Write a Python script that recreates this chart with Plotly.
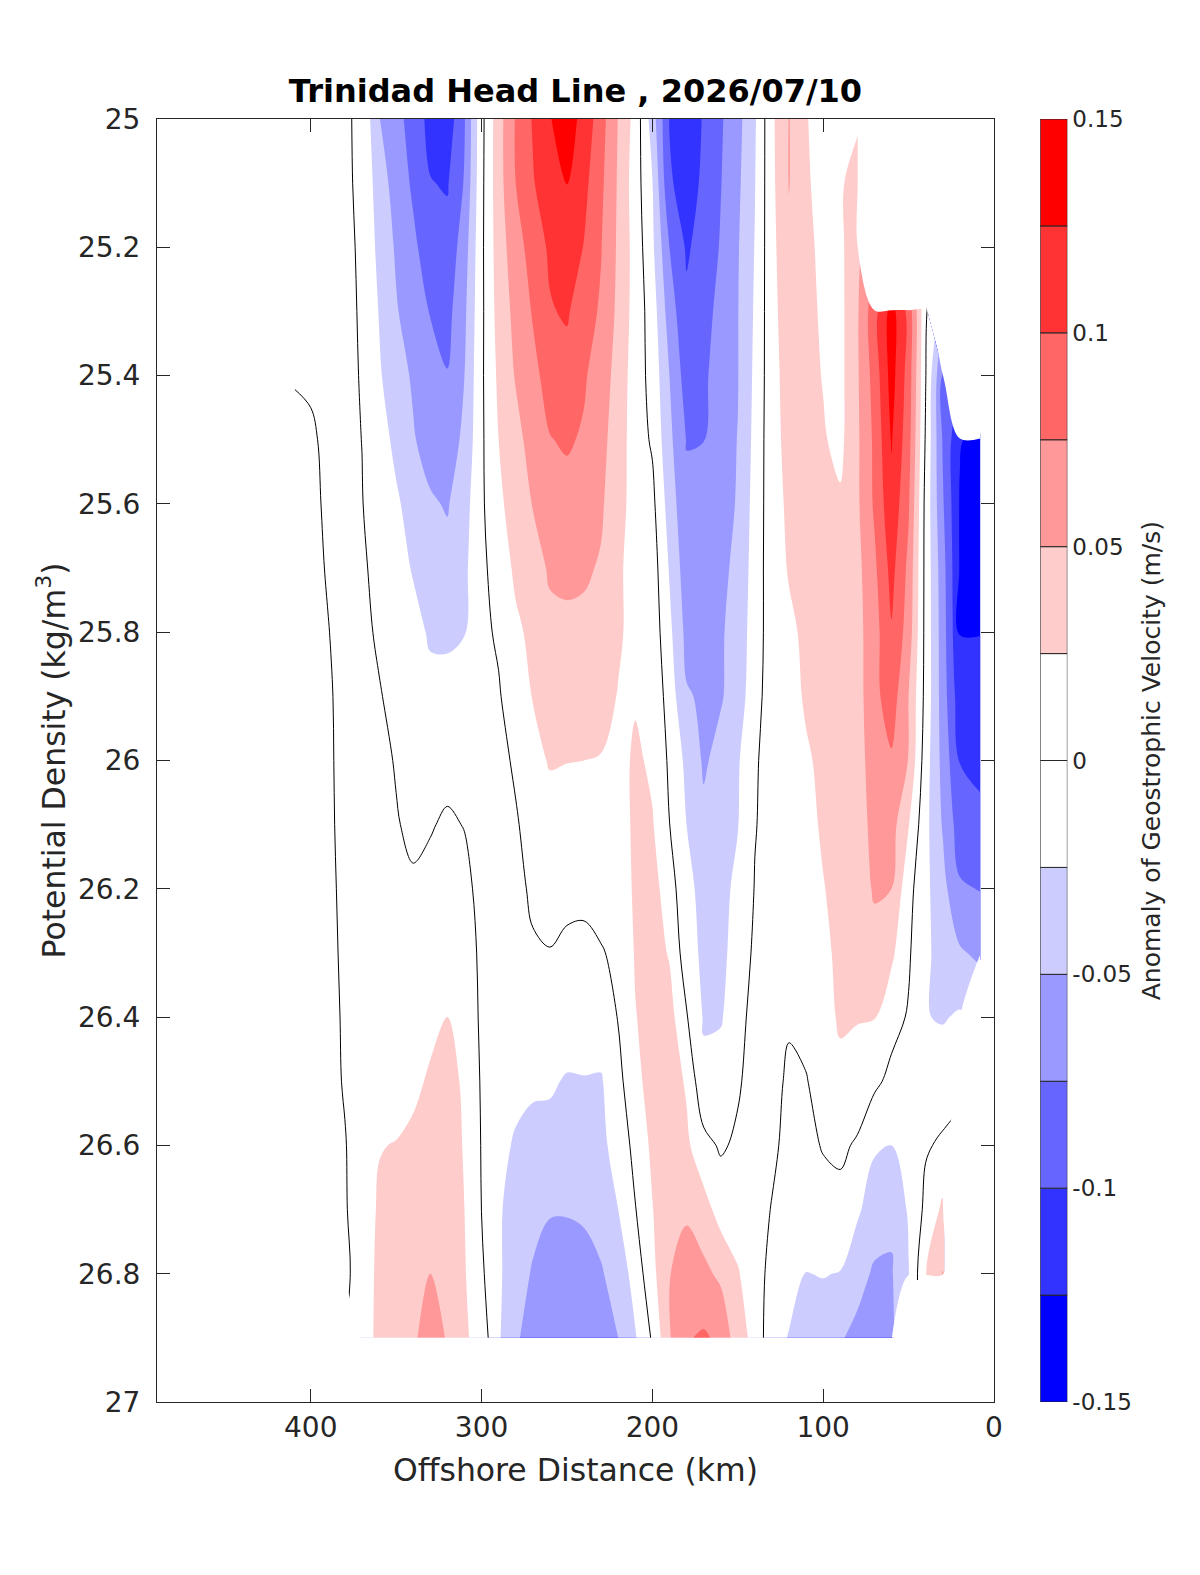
import numpy as np
import plotly.graph_objects as go

N = None

# offshore distance of each station (km)
distance_km = [8, 20, 30, 40, 50, 60, 70, 80, 90, 100, 110, 120, 130, 140, 150,
               160, 170, 180, 190, 200, 210, 220, 230, 240, 250, 260, 270, 280,
               290, 300, 310, 320, 330, 340, 350, 360, 370, 380, 390, 400, 410]

# potential density levels (kg/m3)
density = [25.0, 25.1, 25.2, 25.3, 25.4, 25.5, 25.6, 25.7, 25.8, 25.9,
           26.0, 26.1, 26.2, 26.3, 26.4, 26.5, 26.6, 26.7, 26.8, 26.9]

# geostrophic velocity anomaly, mm/s; one profile per station (25.0 -> 26.9)
velocity_mm_s = [
    [N, N, N, N, N, -135, -131, -126, -125.5, -117, -106, -94, -76, -55, N, N, N, N, N, N],        # 8
    [N, N, N, N, N, -123, -127, -127, -126, -115, -101, -88, -72, -47, -22, -6, N, N, N, N],        # 20
    [N, N, N, N, -77, -77, -72, -65, -63, -62, -58, -52, -42, -33, -27, -10, 3, 30, 51, N],         # 30
    [N, N, N, 3, 1, -3, -8, -8, -8, -8, -14, -18, -19, -21, -24, -18, -2, 5.5, 24, N],              # 40
    [N, N, N, 92, 89, 85, 78, 69, 64, 50, 49, 26, 8, 3, -2, -10, -12, -22, -26, N],                 # 50
    [N, N, N, 135, 135, 127, 118, 108, 98, 88, 72, 60, 50, 30, 8, -6, -25, -46, -52, -55],          # 60
    [N, N, N, 91, 85, 80, 78.5, 70, 65, 68, 62, 58, 53, 40, 26, 5, -22, -38, -53, -58],             # 70
    [20, 38, 45, 47, 47, 46, 46, 43, 42, 40, 40, 38, 36, 32, 27, 10, -2, -21, -42, -56],            # 80
    [20, 21, 19, 18, 18, 19, 28, 33, 34, 34, 33, 33, 32, 28, 29, 17, 3, -5, -26, -48],              # 90
    [18, 17, 20, 22, 24, 27, 30, 31, 32, 31, 30, 28, 24, 22, 14, 8, 1, -6, -24, -38],               # 100
    [26, 28, 30, 31, 32, 34, 35, 33, 30, 28, 22, 18, 14, 12, 6, -1, -4, -12, -25.5, -35],           # 110
    [51, 51, 45, 40, 36, 33, 30, 27, 20, 16, 13, 11, 9, 8, 2, -3, -6, -10, -18, -26],               # 120
    [20, 19, 18, 17, 16, 16, 14, 12, 10, 9, 7, 7, 7, 7, 7, 5.7, 4, -1, -7, -18],                    # 130
    [-28, -26, -24, -22, -20, -18, -15, -12, -10, -6.7, -2, -1, 1, 5, 12, 10, 14, 9, 10, 18],       # 140
    [-58, -55, -52, -51, -51, -49.5, -49, -47, -43, -40, -28, -26, -19, -17, -12, -3, 4, 12, 27, 35],  # 150
    [-78, -76, -73, -66, -62, -58, -55, -53, -52, -52, -43, -38, -33, -30, -27, -15, -3, 15, 45, 70],  # 160
    [-98, -96, -91, -86, -80, -75.5, -66, -61, -55, -53, -53, -45, -35, -30, -27, -20, 8, 35, 56, 78],  # 170
    [-115, -110, -103, -95, -87, -76, -70, -64, -57, -48, -31, -25, -16, -14, 2, 22, 30, 46, 62, 73],  # 180
    [-101, -97, -75, -62, -50, -44, -36, -27, -19, -11, -3.6, 0.3, 10, 23, 35, 38, 40, 45, 49, 48],  # 190
    [-37, -24, -20, -12, -8, -3, 6.4, 12.7, 15.5, 20, 20, 27, 36, 36, 34, 32, 30, 24, 18, 3],       # 200
    [16, 12, 15, 15, 12, 12, 14, 13, 18, 22, 30, 32, 30, 27, 24, 20, 7, -1, -15, -27],              # 210
    [49, 47, 46, 44, 41, 38, 35, 30, 28, 24, 14, 8, 6, 3, 1, -8, -15, -25, -40, -50],               # 220
    [85, 80, 76, 72, 62, 57, 53, 48, 40, 33, 24, 14, 6, -1, -12, -27, -31, -41, -52, -56],          # 230
    [118, 107, 99, 85, 78, 72, 62, 53, 45, 35, 25, 14, 4, -4, -15, -26, -36, -48, -55, -58],        # 240
    [135, 126, 113, 103, 90, 78, 66, 55, 45, 35, 25.5, 15, 4, -3, -12, -27, -36, -49, -57, -63],    # 250
    [124, 115, 104, 98, 85, 74, 62, 53, 44, 36, 27, 14, 5, -0.5, -9, -22, -33, -49, -56, -60],      # 260
    [102, 98, 86, 77, 68, 60, 51, 40, 31, 26, 17, 8, 3, -2, -9, -22, -31, -43, -52, -56],           # 270
    [77, 75, 64, 57, 52, 42, 36, 30, 20, 12, 3, -2, -5, -9, -14, -20, -27, -35, -40, -48],          # 280
    [40, 40, 38, 35, 30, 25, 20, 10, 3, -2, -6, -9, -11, -13, -14, -16, -20, -22, -21, -22],        # 290
    [-7, -6, -5, -5, -4, -4, -4, -5, -5, -6, -8, -8, -4.5, -4, -4, -2.5, -1.2, -0.3, 4, 14],        # 300
    [-77, -73, -62, -55, -50, -45, -35, -30, -26, -15, -7, -0.5, 4, 10, 16, 22, 23, 25, 27, 29],    # 310
    [-115, -102, -92, -83, -74, -62, -52, -42, -29, -17, -5, 2, 8, 16, 25, 32, 38, 42, 46, 49],     # 320
    [-108, -99, -88, -76, -68, -60, -47, -38, -28, -18, -9, -1, 4, 10, 19, 28, 38, 45, 50, 56],     # 330
    [-85, -79, -70, -62, -53, -48, -33, -27, -17, -10, -6, -3, 2, 6, 11, 20, 30, 37, 43, 48],       # 340
    [-67, -60, -53, -48, -40, -30, -22, -15, -10, -4, -1, 1, 3, 5, 8, 14, 26, 30, 33, 35],          # 350
    [-49, -38, -32, -26, -22, -16, -11, -4, -2, 1, 4, 5, 6, 7, 8, 12, 24, 28, 30, 31],              # 360
    [-3, -3, -2, -1.5, -1, -0.2, 0.8, 2, 3.5, 6, 9, 10, 9, 8, 8, 8, 10, 12, 13, 13],                # 370
    [2, 2.5, 3, 3.5, 4, 5, 6, 7, 4.5, 3.5, 3.7, 3, 3, 2, 2, 1.5, -1, -2, -6, N],                    # 380
    [4, 4, 4, 4, 4, 3, 2, 1, -0.5, -1.5, -2, -2, -3, -3, -5, -6, -7, -7, -8, N],                    # 390
    [4, 4, 4, 3, 2, -2, -3, -4, -4, -4, -4, -4, -4, -4, -5, -5, -6, -6, -7, N],                     # 400
    [N, N, N, N, 1, -4, -4, -5, -5, -5, -5, -5, -5, -5, -5, -5, -6, -6, -6, N],                     # 410
]

levels = [-0.15, -0.125, -0.1, -0.075, -0.05, -0.025, 0.0,
          0.025, 0.05, 0.075, 0.1, 0.125, 0.15]
band_colors = ["#0000FF", "#3333FF", "#6666FF", "#9999FF", "#CCCCFF", "#FFFFFF",
               "#FFFFFF", "#FFCCCC", "#FF9999", "#FF6666", "#FF3333", "#FF0000"]
cbar_ticks = [-0.15, -0.1, -0.05, 0, 0.05, 0.1, 0.15]
cbar_labels = ["-0.15", "-0.1", "-0.05", "0", "0.05", "0.1", "0.15"]
y_ticks = [25, 25.2, 25.4, 25.6, 25.8, 26, 26.2, 26.4, 26.6, 26.8, 27]
x_ticks = [0, 100, 200, 300, 400]

z = np.array(velocity_mm_s, dtype=float).T / 1000.0
missing = np.isnan(z).astype(float)

# plotly samples the fill colour at each band centre: step scale with
# one flat segment per band (plus the out-of-range ends)
step = levels[1] - levels[0]
full = [band_colors[0]] + band_colors + [band_colors[-1]]
n = len(full) - 1
scale = []
for j, c in enumerate(full):
    lo = max(0.0, (j - 0.5) / n)
    hi = min(1.0, (j + 0.5) / n)
    scale.append([lo, c])
    scale.append([hi, c])

FONT = "DejaVu Sans"
INK = "#262626"
CLEAR = "rgba(255,255,255,0)"

fig = go.Figure()
fig.add_trace(go.Contour(
    x=distance_km, y=density, z=z,
    autocontour=False,
    contours=dict(start=levels[0], end=levels[-1], size=step,
                  coloring="fill", showlines=False),
    colorscale=scale, showscale=False, line=dict(width=0),
    connectgaps=False, hoverinfo="skip",
))
# white over the no-data cells, reaching almost to the last good station
fig.add_trace(go.Contour(
    x=distance_km, y=density, z=missing,
    autocontour=False,
    contours=dict(start=0.02, end=0.02, size=1, coloring="fill", showlines=False),
    colorscale=[[0, CLEAR], [0.5, CLEAR], [0.5, "white"], [1, "white"]],
    showscale=False, line=dict(width=0), hoverinfo="skip",
))
# the outer station edge sits in white water: hide the stacked-fill seam there
fig.add_trace(go.Scatter(
    x=[distance_km[-1], distance_km[-1]], y=[density[0], density[-1]],
    mode="lines", line=dict(color="white", width=2.5),
    hoverinfo="skip", showlegend=False,
))
fig.add_trace(go.Contour(
    x=distance_km, y=density, z=z,
    autocontour=False,
    contours=dict(start=0, end=0, size=step, coloring="none"),
    line=dict(color="black", width=1), showscale=False,
    connectgaps=False, hoverinfo="skip",
))
# colour bar drawn as stacked cells so every band edge gets a line
fig.add_trace(go.Bar(
    x=[0] * len(band_colors), y=[step] * len(band_colors), base=levels[:-1],
    width=1, marker=dict(color=band_colors, line=dict(color=INK, width=1)),
    xaxis="x2", yaxis="y2", hoverinfo="skip", showlegend=False,
))

# the captured page comes out at ~0.995 scale with an 8 px body margin,
# so target page positions are divided by that before use
K = 0.995
W, H = 1184, 1545


def fig_px(page_px):
    return page_px / K - 8


ML = fig_px(156)
MT = fig_px(118)
MR = 62
MB = H - fig_px(1395)
plot_w = W - ML - MR


def px_x(page_x):
    return (fig_px(page_x) - ML) / plot_w


fig.update_layout(
    width=W, height=H,
    margin=dict(l=ML, r=MR, t=MT, b=MB),
    paper_bgcolor="white", plot_bgcolor="white",
    showlegend=False,
    font=dict(family=FONT, color=INK),
    title=dict(text="<b>Trinidad Head Line , 2026/07/10</b>",
               x=px_x(572.5), xref="paper", xanchor="center",
               y=1 - fig_px(90) / H, yref="container", yanchor="middle",
               font=dict(family=FONT, size=32, color="black")),
    xaxis=dict(domain=[0, px_x(989)], range=[490, 0],
               tickvals=x_ticks, ticks="inside", ticklen=13, tickcolor=INK,
               showline=True, linecolor=INK, linewidth=1, mirror="ticks",
               showgrid=False, zeroline=False,
               tickfont=dict(size=28, color=INK),
               title=dict(text="Offshore Distance (km)", standoff=16,
                          font=dict(size=31.5, color=INK))),
    yaxis=dict(domain=[0, 1], range=[27, 25],
               tickvals=y_ticks, ticktext=[f"{v:g}" for v in y_ticks],
               ticks="inside", ticklen=13, tickcolor=INK,
               showline=True, linecolor=INK, linewidth=1, mirror="ticks",
               showgrid=False, zeroline=False, ticklabelstandoff=10,
               tickfont=dict(size=28, color=INK),
               title=dict(text="Potential Density (kg/m<sup>3</sup>)", standoff=3,
                          font=dict(size=31.5, color=INK))),
    xaxis2=dict(domain=[px_x(1035), px_x(1062)],
                range=[-0.5, 0.5], visible=False, anchor="y2"),
    yaxis2=dict(domain=[0, 1], range=[levels[0], levels[-1]], anchor="x2",
                side="right", tickvals=cbar_ticks, ticktext=cbar_labels,
                ticks="", showline=False, showgrid=False, zeroline=False,
                ticklabelstandoff=4,
                tickfont=dict(size=23, color=INK)),
    annotations=[dict(text="Anomaly of Geostrophic Velocity (m/s)",
                      x=px_x(1146), y=0.5, xref="paper", yref="paper",
                      xanchor="center", yanchor="middle", textangle=-90,
                      showarrow=False, font=dict(size=25, color=INK))],
)

fig.write_html("out.html")
